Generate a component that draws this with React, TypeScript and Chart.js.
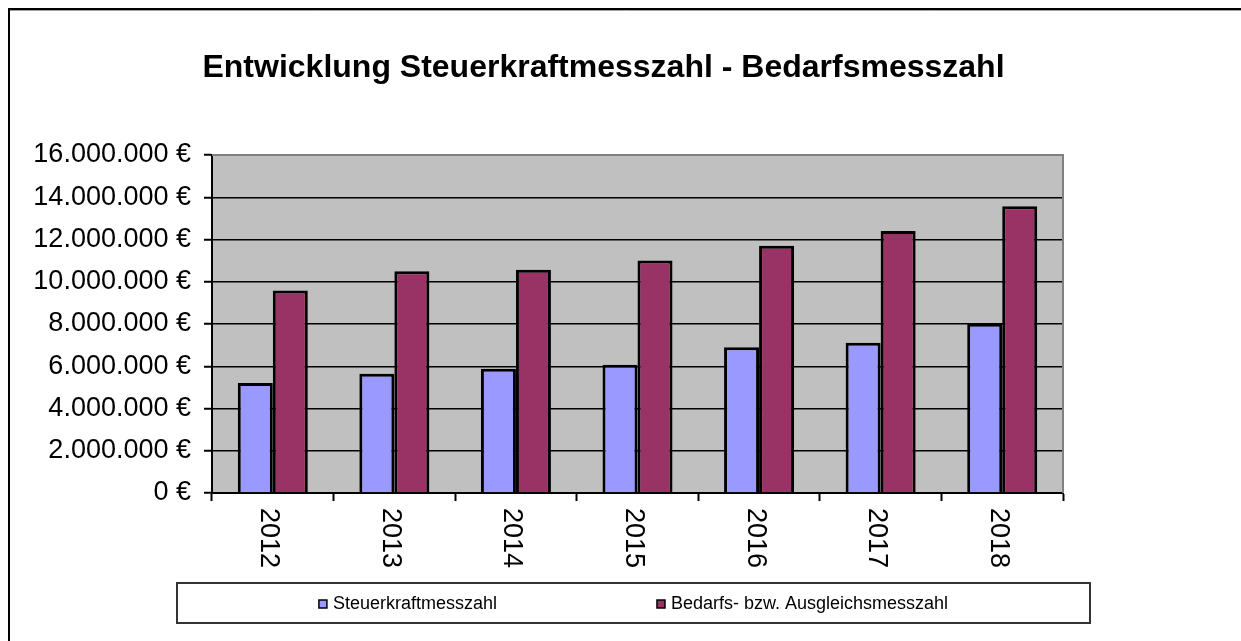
import React, { useEffect, useRef } from "react";
import { Chart, registerables } from "chart.js";
Chart.register(...registerables);

const categories = ["2012", "2013", "2014", "2015", "2016", "2017", "2018"];
const steuerkraft = [5210000, 5640000, 5880000, 6070000, 6900000, 7110000, 8010000];
const bedarf = [9590000, 10500000, 10570000, 11010000, 11710000, 12400000, 13570000];
const seriesNames = ["Steuerkraftmesszahl", "Bedarfs- bzw. Ausgleichsmesszahl"];
const seriesColors = ["#9999FF", "#993366"];
const yMin = 0;
const yMax = 16000000;
const yStep = 2000000;
const titleText = "Entwicklung Steuerkraftmesszahl - Bedarfsmesszahl";

const FONT = '"Liberation Sans", Arial, sans-serif';

function fmtEuro(v: number): string {
  return String(Math.round(v)).replace(/\B(?=(\d{3})+(?!\d))/g, ".") + " €";
}

const decorPlugin = {
  id: "decor",
  beforeDraw(chart: any) {
    const { ctx, chartArea: ca, width, height } = chart;
    ctx.save();
    ctx.fillStyle = "#FFFFFF";
    ctx.fillRect(0, 0, width, height);
    ctx.fillStyle = "#C0C0C0";
    ctx.fillRect(ca.left, ca.top, ca.right - ca.left, ca.bottom - ca.top);
    ctx.restore();
  },
  afterDraw(chart: any) {
    const { ctx, chartArea: ca, width, height } = chart;
    const xs = chart.scales.x;
    ctx.save();
    // outer frame (left + top)
    ctx.strokeStyle = "#000";
    ctx.lineWidth = 2;
    ctx.beginPath();
    ctx.moveTo(9, height);
    ctx.lineTo(9, 9);
    ctx.lineTo(width, 9);
    ctx.stroke();
    ctx.strokeStyle = "#A0A0A0";
    ctx.lineWidth = 1;
    ctx.beginPath();
    ctx.moveTo(10, 10.5);
    ctx.lineTo(width, 10.5);
    ctx.stroke();

    // title
    ctx.fillStyle = "#000";
    ctx.font = `bold 32px ${FONT}`;
    ctx.textAlign = "center";
    ctx.textBaseline = "middle";
    ctx.fillText(titleText, (ca.left + ca.right) / 2 - 34, ca.top - 87);

    // plot top/right border in gray
    ctx.strokeStyle = "#808080";
    ctx.lineWidth = 2;
    ctx.beginPath();
    ctx.moveTo(ca.left, ca.top);
    ctx.lineTo(ca.right, ca.top);
    ctx.lineTo(ca.right, ca.bottom);
    ctx.stroke();

    // x labels rotated clockwise
    ctx.fillStyle = "#000";
    ctx.font = `27px ${FONT}`;
    ctx.textAlign = "left";
    ctx.textBaseline = "middle";
    categories.forEach((c, i) => {
      const x = xs.getPixelForValue(i) - 4;
      ctx.save();
      ctx.translate(x, ca.bottom + 15);
      ctx.rotate(Math.PI / 2);
      ctx.fillText(c, 0, 0);
      ctx.restore();
    });

    // legend
    const lx = ca.left - 35;
    const ly = ca.bottom + 90;
    const lw = ca.right + 27 - lx;
    const lh = 40;
    ctx.strokeStyle = "#333";
    ctx.lineWidth = 2;
    ctx.strokeRect(lx, ly, lw, lh);
    ctx.font = `18px ${FONT}`;
    const sq = 8;
    const gapText = 14;
    const gapItems = 152;
    const w0 = ctx.measureText(seriesNames[0]).width;
    const w1 = ctx.measureText(seriesNames[1]).width;
    const total = sq + gapText + w0 + gapItems + sq + gapText + w1;
    let cx = (ca.left + ca.right) / 2 - total / 2;
    const cy = ly + 21;
    seriesNames.forEach((name, i) => {
      ctx.fillStyle = seriesColors[i];
      ctx.fillRect(cx, cy - sq / 2, sq, sq);
      ctx.strokeStyle = "#000";
      ctx.lineWidth = 1.5;
      ctx.strokeRect(cx, cy - sq / 2, sq, sq);
      ctx.fillStyle = "#000";
      ctx.fillText(name, cx + sq + gapText - 8, cy);
      cx += sq + gapText + (i === 0 ? w0 : w1) + gapItems;
    });
    ctx.restore();
  },
};

export default function App() {
  const ref = useRef<HTMLCanvasElement>(null);
  useEffect(() => {
    if (!ref.current) return;
    const chart = new Chart(ref.current, {
      type: "bar",
      data: {
        labels: categories,
        datasets: [
          {
            label: seriesNames[0],
            data: steuerkraft,
            backgroundColor: seriesColors[0],
            borderColor: "#000",
            borderWidth: 3,
            barPercentage: 1,
            categoryPercentage: 0.576,
          },
          {
            label: seriesNames[1],
            data: bedarf,
            backgroundColor: seriesColors[1],
            borderColor: "#000",
            borderWidth: 3,
            barPercentage: 1,
            categoryPercentage: 0.576,
          },
        ],
      },
      options: {
        responsive: false,
        animation: false,
        layout: { padding: { left: 22, right: 178, top: 155, bottom: 68 } },
        plugins: {
          legend: { display: false },
          tooltip: { enabled: false },
          title: { display: false },
        },
        scales: {
          x: {
            grid: {
              display: true,
              offset: true,
              drawOnChartArea: false,
              drawTicks: true,
              tickLength: 8,
              tickColor: "#000",
              tickWidth: 2,
            },
            border: { display: true, color: "#000", width: 2 },
            ticks: {
              color: "rgba(0,0,0,0)",
              font: { family: FONT, size: 27 },
              minRotation: 90,
              maxRotation: 90,
              padding: 7,
            },
            afterFit: (s: any) => {
              s.height = 80;
            },
          },
          y: {
            min: yMin,
            max: yMax,
            ticks: {
              stepSize: yStep,
              color: "#000",
              font: { family: FONT, size: 27 },
              padding: 13,
              callback: (v: any) => fmtEuro(Number(v)),
            },
            grid: {
              color: (c: any) => (c.tick && c.tick.value === yMax ? "rgba(0,0,0,0)" : "#000"),
              lineWidth: 1.5,
              tickLength: 8,
              tickColor: "#000",
              tickWidth: 2,
            },
            border: { display: true, color: "#000", width: 2 },
            afterFit: (s: any) => {
              s.width = 190;
            },
          },
        },
      },
      plugins: [decorPlugin],
    });
    return () => chart.destroy();
  }, []);
  return (
    <canvas
      ref={ref}
      width={1241}
      height={641}
      style={{ position: "absolute", left: 0, top: 0, width: 1241, height: 641 }}
    />
  );
}
